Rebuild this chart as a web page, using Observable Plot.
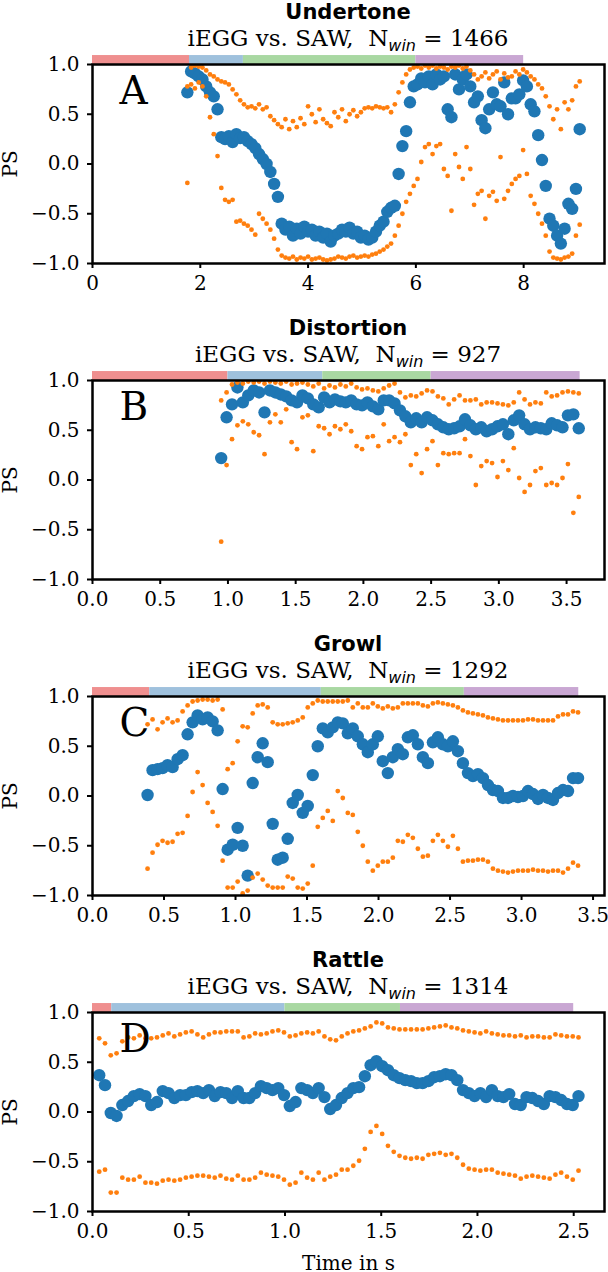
<!DOCTYPE html>
<html>
<head>
<meta charset="utf-8">
<script src="https://cdn.jsdelivr.net/npm/d3@7"></script>
<script src="https://cdn.jsdelivr.net/npm/@observablehq/plot@0.6"></script>
<style>
  html, body { margin: 0; padding: 0; background: #fff; }
  body { width: 608px; overflow: hidden; }
  .panel { position: relative; width: 608px; height: 316px; }
  .panel.last { height: 324px; }
  .title { position: absolute; left: 92px; width: 512px; top: 0px; text-align: center;
           font-family: "DejaVu Sans", sans-serif; font-weight: bold; font-size: 21px; color: #000; line-height: normal; }
  .sub { position: absolute; left: 92px; width: 512px; top: 24px; text-align: center;
         font-family: "DejaVu Serif", serif; font-size: 23px; color: #000; line-height: 28px; white-space: pre; }
  .sub sub { font-family: "DejaVu Sans", sans-serif; font-style: italic; font-size: 16px; vertical-align: -5px; line-height: 0; }
  .chart { position: absolute; left: 0; top: 50px; }
</style>
</head>
<body>
<div id="root"></div>
<script>
// ---------- data ----------
const panelTitles = ["Undertone", "Distortion", "Growl", "Rattle"];
const panelLetters = ["A", "B", "C", "D"];
const nWin = [1466, 927, 1292, 1314];
const phaseColors = ["#ef8f8f", "#9fc1dd", "#a9d8a2", "#c9a7d3"];

// phase boundaries (s)
const phasesA = [0, 1.8, 2.8, 6.0, 8.0];
const phasesB = [0, 1.0, 1.7, 2.5, 3.6];
const phasesC = [0, 0.4, 1.6, 2.6, 3.4];
const phasesD = [0, 0.1, 1.0, 1.6, 2.5];

// x tick labels
const ticksA = [0, 2, 4, 6, 8];
const ticksB = [0, 0.5, 1, 1.5, 2, 2.5, 3, 3.5];
const ticksC = [0, 0.5, 1, 1.5, 2, 2.5, 3, 3.5];
const ticksD = [0, 0.5, 1, 1.5, 2, 2.5];
const yTicks = [-1, -0.5, 0, 0.5, 1];

// window sampling: start time and step (s)
const timingA = [1.76, 0.07];
const timingB = [0.95, 0.04];
const timingC = [0.385, 0.035];
const timingD = [0.035, 0.03];

// Panel A (Undertone)
const psA = [0.72,0.93,0.91,0.88,0.85,0.78,0.72,0.68,0.55,0.27,
0.25,0.28,0.22,0.30,0.26,0.27,0.23,0.20,0.16,0.10,
0.05,0.00,-0.08,-0.20,-0.33,-0.60,-0.66,-0.63,-0.72,-0.65,
-0.70,-0.63,-0.68,-0.66,-0.72,-0.68,-0.74,-0.70,-0.78,-0.72,
-0.70,-0.66,-0.68,-0.64,-0.70,-0.68,-0.74,-0.72,-0.76,-0.74,
-0.68,-0.62,-0.58,-0.48,-0.44,-0.42,-0.10,0.18,0.33,0.62,
0.78,0.80,0.86,0.82,0.88,0.80,0.90,0.85,0.88,0.55,
0.47,0.90,0.75,0.85,0.90,0.78,0.62,0.68,0.44,0.36,
0.55,0.72,0.60,0.58,0.82,0.50,0.66,0.66,0.70,0.84,
0.78,0.60,0.53,0.29,0.04,-0.22,-0.55,-0.62,-0.72,-0.80,
-0.65,-0.40,-0.45,-0.25,0.35];
const upA = [0.78,0.97,0.99,0.98,0.97,0.94,0.90,0.88,0.85,0.83,
0.82,0.80,0.75,0.70,0.64,0.60,0.57,0.58,0.56,0.60,
0.55,0.57,0.48,0.44,0.40,0.37,0.45,0.35,0.43,0.37,
0.46,0.40,0.58,0.50,0.42,0.55,0.45,0.41,0.38,0.52,
0.47,0.55,0.43,0.50,0.54,0.48,0.52,0.56,0.57,0.56,
0.58,0.57,0.56,0.57,0.52,0.60,0.72,0.82,0.90,0.95,
0.97,0.98,0.96,0.99,0.97,0.99,0.96,0.98,0.97,0.95,
0.98,0.97,0.99,0.96,0.98,0.94,0.90,0.85,0.88,0.92,
0.86,0.90,0.93,0.85,0.91,0.87,0.88,0.93,0.90,0.95,
0.92,0.88,0.85,0.80,0.76,0.68,0.58,0.45,0.55,0.35,
0.62,0.55,0.64,0.78,0.83];
const loA = [-0.19,0.80,0.76,0.82,0.78,0.68,0.47,0.30,0.08,-0.24,
-0.36,-0.38,-0.36,-0.58,-0.57,-0.60,-0.62,-0.66,-0.71,-0.50,
-0.55,-0.60,-0.66,-0.75,-0.86,-0.92,-0.94,-0.95,-0.93,-0.96,
-0.94,-0.95,-0.93,-0.96,-0.95,-0.94,-0.96,-0.97,-0.96,-0.95,
-0.93,-0.94,-0.95,-0.93,-0.92,-0.94,-0.93,-0.92,-0.93,-0.91,
-0.90,-0.88,-0.86,-0.83,-0.80,-0.72,-0.62,-0.50,-0.38,-0.30,
-0.22,-0.15,0.02,0.17,0.20,0.10,0.18,0.20,-0.05,-0.12,
-0.47,0.10,-0.03,-0.15,0.17,-0.05,-0.41,-0.30,-0.27,-0.55,
-0.32,-0.28,-0.37,0.07,-0.35,-0.27,-0.20,-0.15,-0.12,0.14,
-0.10,-0.32,-0.40,-0.50,-0.60,-0.72,-0.88,-0.94,-0.95,-0.96,
-0.94,-0.93,-0.90,-0.72,-0.61];

// Panel B (Distortion)
const psB = [0.22,0.63,0.76,0.93,0.78,0.85,0.90,0.88,0.68,0.90,
0.88,0.86,0.84,0.80,0.78,0.85,0.82,0.76,0.73,0.83,
0.78,0.81,0.79,0.78,0.80,0.76,0.75,0.78,0.74,0.71,
0.80,0.80,0.77,0.70,0.64,0.58,0.62,0.58,0.63,0.60,
0.56,0.53,0.51,0.52,0.54,0.61,0.55,0.51,0.53,0.49,
0.51,0.54,0.56,0.46,0.60,0.65,0.56,0.51,0.53,0.52,
0.51,0.57,0.55,0.53,0.65,0.66,0.52];
const upB = [0.80,0.88,0.96,0.98,0.97,0.99,0.98,0.99,0.97,0.99,
0.98,0.97,0.99,0.96,0.97,0.98,0.96,0.94,0.97,0.92,
0.95,0.93,0.96,0.94,0.97,0.93,0.91,0.92,0.90,0.89,
0.92,0.95,0.97,0.88,0.83,0.85,0.84,0.87,0.90,0.89,
0.84,0.82,0.76,0.81,0.85,0.80,0.80,0.81,0.76,0.78,
0.78,0.77,0.76,0.75,0.78,0.88,0.81,0.76,0.78,0.77,
0.88,0.84,0.85,0.88,0.89,0.88,0.87];
const loB = [-0.62,0.15,0.41,0.55,0.59,0.56,0.48,0.45,0.26,0.58,
0.66,0.58,0.71,0.38,0.31,0.63,0.65,0.29,0.54,0.52,
0.46,0.54,0.51,0.56,0.49,0.34,0.31,0.43,0.44,0.34,
0.56,0.39,0.43,0.38,0.46,0.15,0.26,0.07,0.31,0.39,
0.15,0.27,0.26,0.27,0.27,0.41,0.24,-0.05,0.14,0.19,
0.17,0.03,0.19,0.10,0.32,0.02,-0.12,-0.05,0.09,0.12,
-0.05,-0.03,-0.05,0.02,0.16,-0.33,-0.17];

// Panel C (Growl)
const psC = [0.01,0.26,0.27,0.28,0.31,0.29,0.37,0.41,0.62,0.74,
0.81,0.77,0.79,0.75,0.66,0.07,-0.54,-0.49,-0.32,-0.50,
-0.80,0.13,0.39,0.53,0.34,-0.28,-0.64,-0.62,-0.43,-0.07,
0.01,-0.17,-0.10,0.21,0.50,0.68,0.64,0.69,0.74,0.73,
0.63,0.68,0.60,0.52,0.44,0.52,0.60,0.35,0.23,0.39,
0.47,0.42,0.59,0.61,0.52,0.39,0.33,0.54,0.59,0.52,
0.50,0.55,0.45,0.33,0.23,0.20,0.22,0.18,0.11,0.06,
0.05,-0.02,-0.02,0.00,-0.01,0.00,0.05,0.02,-0.03,0.01,
-0.02,-0.04,0.03,0.06,0.05,0.18,0.18];
const upC = [0.72,0.77,0.67,0.74,0.78,0.74,0.76,0.85,0.91,0.95,
0.96,0.97,0.97,0.96,0.97,0.87,0.27,0.33,0.55,0.70,
0.69,0.83,0.91,0.92,0.89,0.74,0.72,0.72,0.73,0.74,
0.76,0.79,0.89,0.93,0.96,0.95,0.95,0.95,0.95,0.95,
0.96,0.89,0.93,0.89,0.89,0.93,0.90,0.88,0.90,0.88,
0.89,0.93,0.93,0.93,0.93,0.91,0.90,0.93,0.94,0.93,
0.92,0.91,0.89,0.86,0.84,0.83,0.82,0.81,0.79,0.78,
0.77,0.76,0.76,0.76,0.76,0.76,0.77,0.77,0.76,0.76,
0.76,0.76,0.80,0.82,0.82,0.85,0.84];
const loC = [-0.73,-0.57,-0.49,-0.45,-0.47,-0.46,-0.38,-0.37,-0.20,0.04,
0.24,0.11,-0.07,-0.16,-0.30,-0.65,-0.92,-0.92,-0.86,-0.98,
-0.95,-0.82,-0.78,-0.84,-0.90,-0.92,-0.92,-0.92,-0.81,-0.83,
-0.92,-0.93,-0.88,-0.70,-0.31,-0.22,-0.15,-0.25,0.05,-0.02,
-0.17,-0.19,-0.36,-0.50,-0.66,-0.75,-0.70,-0.66,-0.66,-0.62,
-0.45,-0.46,-0.39,-0.42,-0.53,-0.61,-0.60,-0.45,-0.39,-0.45,
-0.51,-0.40,-0.53,-0.66,-0.65,-0.65,-0.64,-0.64,-0.66,-0.73,
-0.75,-0.76,-0.77,-0.76,-0.75,-0.75,-0.75,-0.74,-0.75,-0.75,
-0.76,-0.75,-0.75,-0.77,-0.73,-0.67,-0.70];

// Panel D (Rattle)
const psD = [0.37,0.27,-0.01,-0.04,0.07,0.11,0.16,0.18,0.16,0.07,
0.10,0.21,0.19,0.14,0.17,0.17,0.20,0.21,0.19,0.22,
0.16,0.20,0.19,0.14,0.21,0.14,0.14,0.19,0.26,0.24,
0.22,0.24,0.17,0.06,0.10,0.24,0.22,0.19,0.24,0.15,
0.03,0.07,0.14,0.19,0.24,0.25,0.36,0.47,0.51,0.46,
0.42,0.37,0.34,0.32,0.31,0.29,0.29,0.31,0.35,0.36,
0.38,0.37,0.32,0.22,0.19,0.16,0.19,0.15,0.22,0.16,
0.15,0.18,0.08,0.07,0.15,0.14,0.11,0.08,0.16,0.15,
0.12,0.08,0.07,0.16];
const upD = [0.74,0.69,0.57,0.59,0.71,0.75,0.74,0.77,0.74,0.74,
0.75,0.77,0.79,0.76,0.78,0.80,0.81,0.78,0.75,0.78,
0.80,0.80,0.81,0.81,0.81,0.75,0.76,0.79,0.78,0.79,
0.81,0.82,0.80,0.76,0.77,0.79,0.80,0.79,0.81,0.76,
0.73,0.72,0.76,0.79,0.81,0.82,0.84,0.86,0.90,0.89,
0.85,0.84,0.83,0.83,0.83,0.83,0.83,0.84,0.85,0.86,
0.87,0.85,0.84,0.82,0.81,0.80,0.79,0.81,0.79,0.78,
0.77,0.77,0.76,0.77,0.75,0.76,0.76,0.75,0.75,0.78,
0.77,0.76,0.76,0.75];
const loD = [-0.60,-0.58,-0.81,-0.81,-0.66,-0.68,-0.68,-0.65,-0.71,-0.71,
-0.72,-0.69,-0.68,-0.69,-0.68,-0.66,-0.65,-0.64,-0.64,-0.65,
-0.66,-0.64,-0.67,-0.68,-0.64,-0.68,-0.68,-0.66,-0.61,-0.63,
-0.64,-0.65,-0.68,-0.73,-0.71,-0.61,-0.66,-0.68,-0.61,-0.68,
-0.65,-0.63,-0.58,-0.58,-0.54,-0.49,-0.37,-0.20,-0.14,-0.22,
-0.34,-0.40,-0.44,-0.46,-0.47,-0.46,-0.47,-0.43,-0.42,-0.41,
-0.43,-0.42,-0.46,-0.53,-0.57,-0.58,-0.59,-0.58,-0.58,-0.61,
-0.62,-0.63,-0.64,-0.67,-0.65,-0.64,-0.65,-0.66,-0.67,-0.63,
-0.61,-0.65,-0.68,-0.59];

// ---------- drawing ----------
const panels = [
  {ps: psA, up: upA, lo: loA, timing: timingA, phases: phasesA, ticks: ticksA, xmax: 9.5, fmt: d3.format("d")},
  {ps: psB, up: upB, lo: loB, timing: timingB, phases: phasesB, ticks: ticksB, xmax: 3.78, fmt: d3.format(".1f")},
  {ps: psC, up: upC, lo: loC, timing: timingC, phases: phasesC, ticks: ticksC, xmax: 3.58, fmt: d3.format(".1f")},
  {ps: psD, up: upD, lo: loD, timing: timingD, phases: phasesD, ticks: ticksD, xmax: 2.66, fmt: d3.format(".1f")}
];

const root = document.getElementById("root");
panels.forEach((p, k) => {
  const last = k === panels.length - 1;
  const div = document.createElement("div");
  div.className = "panel" + (last ? " last" : "");
  const t = document.createElement("div");
  t.className = "title";
  t.textContent = panelTitles[k];
  const s = document.createElement("div");
  s.className = "sub";
  s.innerHTML = "iEGG vs. SAW,  N<sub>win</sub> = " + nWin[k];
  div.appendChild(t);
  div.appendChild(s);

  const [t0, dt] = p.timing;
  const rows = vals => vals.map((v, i) => ({t: t0 + i * dt, v}));
  const segs = phaseColors.map((c, i) => ({x1: p.phases[i], x2: p.phases[i + 1], c}));
  const height = last ? 274 : 266;

  const chart = Plot.plot({
    width: 608,
    height,
    marginLeft: 92,
    marginRight: 4,
    marginTop: 14,
    marginBottom: height - 14 - 199,
    style: {fontFamily: "'DejaVu Serif', serif", fontSize: "20px", color: "#000", background: "transparent", overflow: "visible"},
    x: {domain: [0, p.xmax]},
    y: {domain: [-1, 1]},
    color: {type: "identity"},
    marks: [
      Plot.rect(segs, {x1: "x1", x2: "x2", y1: 1, y2: 1.09, fill: "c"}),
      Plot.dot(rows(p.ps), {x: "t", y: "v", r: 6.2, fill: "#1f77b4", clip: true}),
      Plot.dot(rows(p.up), {x: "t", y: "v", r: 2.4, fill: "#ff7f0e", clip: true}),
      Plot.dot(rows(p.lo), {x: "t", y: "v", r: 2.4, fill: "#ff7f0e", clip: true}),
      Plot.frame({stroke: "#000", strokeWidth: 2.5}),
      Plot.axisX({ticks: p.ticks, tickFormat: p.fmt, tickSize: 5, tickPadding: 7, strokeWidth: 2,
        label: last ? "Time in s" : null, labelAnchor: "center", labelArrow: "none", labelOffset: 58}),
      Plot.axisY({ticks: yTicks, tickFormat: d3.format(".1f"), tickSize: 5, tickPadding: 8, strokeWidth: 2,
        label: "PS", labelAnchor: "center", labelArrow: "none", labelOffset: 90}),
      Plot.text([panelLetters[k]], {text: d => d, frameAnchor: "top-left", dx: 27, dy: 12,
        lineAnchor: "top", textAnchor: "start", fontSize: 39, fill: "#000"})
    ]
  });
  chart.classList.add("chart");
  div.appendChild(chart);
  root.appendChild(div);
});
</script>
</body>
</html>
